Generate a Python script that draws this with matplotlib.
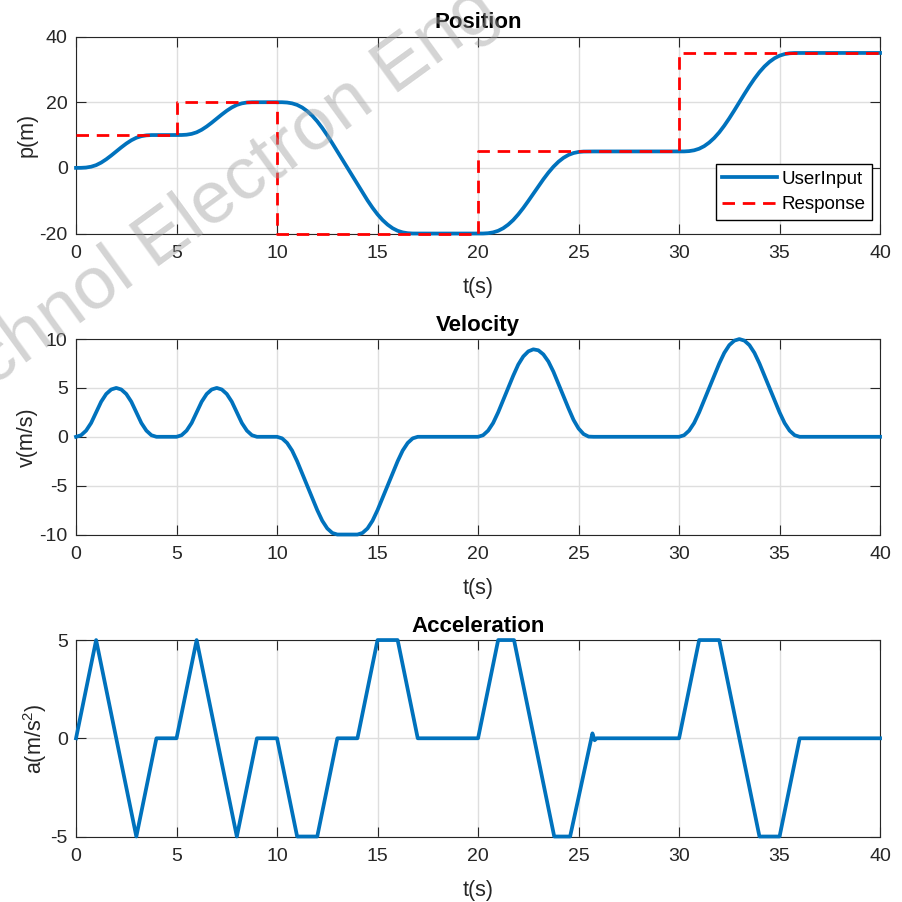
import numpy as np
import matplotlib
matplotlib.use("Agg")
import matplotlib.pyplot as plt

plt.rcParams['font.family'] = ['Liberation Sans', 'DejaVu Sans']
plt.rcParams['mathtext.fontset'] = 'custom'
plt.rcParams['mathtext.rm'] = 'Liberation Sans'
plt.rcParams['mathtext.it'] = 'Liberation Sans'
plt.rcParams['axes.unicode_minus'] = False

# sample times for the smooth curves (every 0.25 s)
t = np.arange(0, 40.001, 0.25)

# position (m)
pos = [0, 0.01, 0.10, 0.35, 0.83, 1.60, 2.60, 3.76, 5.00, 6.24, 7.40, 8.40, 9.17, 9.65, 9.90, 9.99, 10.00,
       10, 10, 10, 10,
       10.01, 10.10, 10.35, 10.83, 11.60, 12.60, 13.76, 15.00, 16.24, 17.40, 18.40, 19.17, 19.65, 19.90, 19.99, 20.00,
       20, 20, 20, 20,
       19.99, 19.90, 19.65, 19.17, 18.39, 17.29, 15.89, 14.17, 12.15, 9.90, 7.49, 5.00, 2.50, 0.00,
       -2.50, -5.00, -7.49, -9.90, -12.15, -14.17, -15.89, -17.29, -18.39, -19.17, -19.65, -19.90, -19.99, -20.00,
       -20, -20, -20, -20, -20, -20, -20, -20, -20, -20, -20, -20,
       -19.99, -19.90, -19.65, -19.17, -18.39, -17.29, -15.89, -14.17, -12.22, -10.09, -7.87, -5.64,
       -3.47, -1.45, 0.35, 1.86, 3.06, 3.94, 4.52, 4.84, 4.97, 5.00, 5.00, 5.00,
       5, 5, 5, 5, 5, 5, 5, 5, 5, 5, 5, 5, 5, 5, 5, 5,
       5.01, 5.10, 5.35, 5.83, 6.61, 7.71, 9.11, 10.83, 12.85, 15.10, 17.51, 20.00,
       22.49, 24.90, 27.15, 29.17, 30.89, 32.29, 33.39, 34.17, 34.65, 34.90, 34.99, 35.00,
       35, 35, 35, 35, 35, 35, 35, 35, 35, 35, 35, 35, 35, 35, 35, 35]

# velocity (m/s)
vel = [0, 0.16, 0.63, 1.41, 2.5, 3.59, 4.38, 4.84, 5, 4.84, 4.38, 3.59, 2.5, 1.41, 0.63, 0.16, 0,
       0, 0, 0, 0,
       0.16, 0.63, 1.41, 2.5, 3.59, 4.38, 4.84, 5, 4.84, 4.38, 3.59, 2.5, 1.41, 0.63, 0.16, 0,
       0, 0, 0, 0,
       -0.16, -0.63, -1.41, -2.5, -3.75, -5, -6.25, -7.5, -8.59, -9.38, -9.84, -10, -10, -10, -10,
       -10, -9.84, -9.38, -8.59, -7.5, -6.25, -5, -3.75, -2.5, -1.41, -0.63, -0.16, 0,
       0, 0, 0, 0, 0, 0, 0, 0, 0, 0, 0, 0,
       0.16, 0.63, 1.41, 2.5, 3.75, 5.0, 6.25, 7.39, 8.22, 8.74, 8.95, 8.85,
       8.43, 7.70, 6.66, 5.41, 4.16, 2.91, 1.73, 0.85, 0.28, 0.02, 0, 0,
       0, 0, 0, 0, 0, 0, 0, 0, 0, 0, 0, 0, 0, 0, 0, 0,
       0.16, 0.63, 1.41, 2.5, 3.75, 5, 6.25, 7.5, 8.59, 9.38, 9.84, 10,
       9.84, 9.38, 8.59, 7.5, 6.25, 5, 3.75, 2.5, 1.41, 0.63, 0.16, 0,
       0, 0, 0, 0, 0, 0, 0, 0, 0, 0, 0, 0, 0, 0, 0, 0]

# acceleration corner points (s, m/s^2)
acc_t = [0, 1, 3, 4, 5, 6, 8, 9, 10, 11, 12, 13, 14, 15, 16, 17, 20, 21, 21.79, 23.79, 24.58,
         25.69, 25.8, 25.9, 30, 31, 32, 34, 35, 36, 40]
acc_a = [0, 5, -5, 0, 0, 5, -5, 0, 0, -5, -5, 0, 0, 5, 5, 0, 0, 5, 5, -5, -5,
         0.25, -0.1, 0, 0, 5, 5, -5, -5, 0, 0]

# step reference
ref_t = [0, 5, 10, 20, 30, 40]
ref_p = [10, 20, -20, 5, 35, 35]

blue = '#0072BD'
dark = '#262626'

fig = plt.figure(figsize=(9.03, 9.02), dpi=100)
ax1 = fig.add_axes([0.0842, 0.7411, 0.8904, 0.2184])
ax2 = fig.add_axes([0.0842, 0.4074, 0.8904, 0.2167])
ax3 = fig.add_axes([0.0842, 0.0726, 0.8904, 0.2178])

ax1.plot(t, pos, color=blue, lw=2.7, label='UserInput', clip_on=False, zorder=3)
ax1.plot(ref_t, ref_p, color='red', lw=2.0, ls='--', dashes=(4.5, 2.8),
         drawstyle='steps-post', label='Response', clip_on=False, zorder=3.1)
ax2.plot(t, vel, color=blue, lw=2.7, clip_on=False, zorder=3)
ax3.plot(acc_t, acc_a, color=blue, lw=2.7, clip_on=False, zorder=3)

setup = [(ax1, 'Position', 'p(m)', (-20, 40), [-20, 0, 20, 40]),
         (ax2, 'Velocity', 'v(m/s)', (-10, 10), [-10, -5, 0, 5, 10]),
         (ax3, 'Acceleration', 'a(m/s$^2$)', (-5, 5), [-5, 0, 5])]

for ax, title, ylab, ylim, yt in setup:
    ax.set_xlim(0, 40)
    ax.set_ylim(*ylim)
    ax.set_xticks(range(0, 41, 5))
    ax.set_yticks(yt)
    ax.grid(True, color='#dedede', lw=1.0)
    ax.set_axisbelow(True)
    ax.tick_params(direction='in', top=True, right=True, length=7, width=0.8,
                   color=dark, labelcolor=dark, labelsize=14)
    ax.tick_params(axis='x', pad=8)
    ax.tick_params(axis='y', pad=6)
    for s in ax.spines.values():
        s.set_color(dark)
        s.set_linewidth(0.8)
    ax.set_title(title, fontsize=16, fontweight='bold', pad=6)
    ax.set_xlabel('t(s)', fontsize=15.5, color=dark, labelpad=11)
    ax.set_ylabel(ylab, fontsize=15.5, color=dark, labelpad=1)

leg = ax1.legend(loc='lower right', bbox_to_anchor=(0.990, 0.0685), borderaxespad=0,
                 fancybox=False, framealpha=1, edgecolor='black', fontsize=13.5,
                 handlelength=2.9, handletextpad=0.25, labelspacing=0.45, borderpad=0.35)
leg.get_frame().set_linewidth(1.0)
leg.set_zorder(5)

# watermark (partly outside the image, as in the original)
fig.text(-83 / 903, 1 - 418 / 902, 'Technol Electron Eng', fontsize=54, rotation=36,
         rotation_mode='anchor', ha='left', va='center', color='#a0a0a0',
         alpha=0.45, family=['Liberation Sans', 'DejaVu Sans'], zorder=10)

fig.savefig('out.png', dpi=100)
